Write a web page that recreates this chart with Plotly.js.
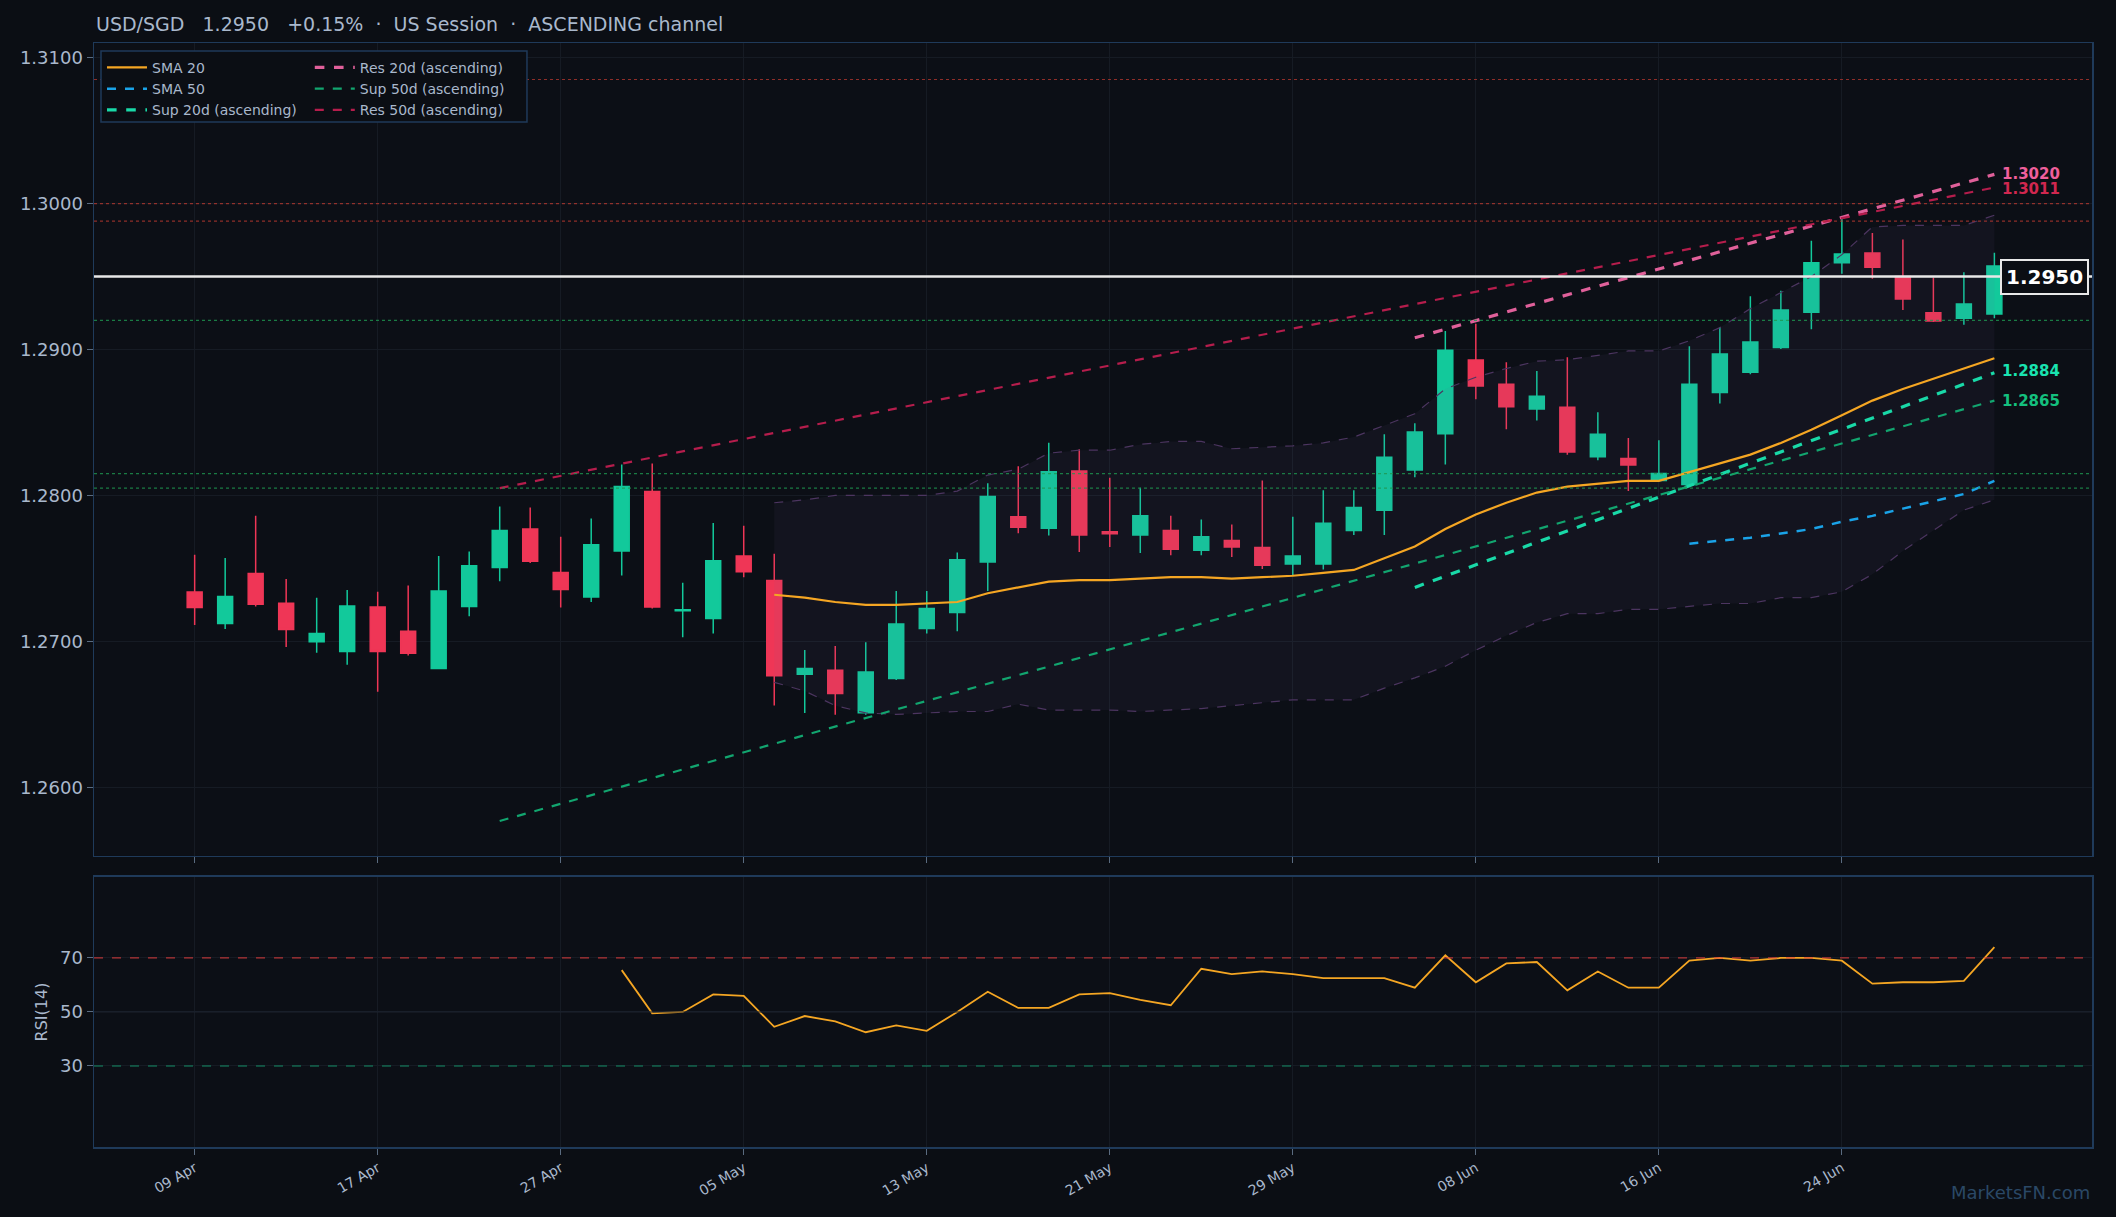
<!DOCTYPE html>
<html>
<head>
<meta charset="utf-8">
<script src="https://cdn.plot.ly/plotly-3.0.1.min.js"></script>
<style>
  html, body { margin: 0; padding: 0; background: #0b0e14; }
  #chart { width: 2116px; height: 1217px; }
</style>
</head>
<body>
<div id="chart"></div>
<script>
// candle index 0..59 (business days from 09 Apr)
var opens  = [1.27338,1.27123,1.27466,1.27262,1.26998,1.26931,1.27236,1.27070,1.26814,1.27240,
              1.27507,1.27771,1.27473,1.27304,1.27620,1.28027,1.27210,1.27157,1.27586,1.27417,
              1.26775,1.26803,1.26512,1.26746,1.27089,1.27198,1.27545,1.27854,1.27775,1.28167,
              1.27752,1.27729,1.27760,1.27624,1.27692,1.27643,1.27530,1.27530,1.27760,1.27899,
              1.28174,1.28423,1.28928,1.28762,1.28592,1.28604,1.28265,1.28253,1.28102,1.28076,
              1.28705,1.28845,1.29014,1.29255,1.29595,1.29662,1.29500,1.29252,1.29214,1.29244];
var highs  = [1.27594,1.27571,1.27861,1.27428,1.27300,1.27353,1.27341,1.27383,1.27586,1.27616,
              1.27925,1.27918,1.27718,1.27842,1.28212,1.28219,1.27402,1.27812,1.27793,1.27601,
              1.26942,1.26968,1.26995,1.27345,1.27345,1.27609,1.28084,1.28200,1.28362,1.28317,
              1.28121,1.28053,1.27861,1.27835,1.27801,1.28102,1.27854,1.28035,1.28035,1.28419,
              1.28494,1.29127,1.29176,1.28913,1.28852,1.28947,1.28570,1.28393,1.28378,1.29022,
              1.29154,1.29365,1.29402,1.29745,1.29900,1.29798,1.29753,1.29493,1.29530,1.29663];
var lows   = [1.27112,1.27085,1.27240,1.26961,1.26923,1.26840,1.26656,1.26904,1.26814,1.27172,
              1.27413,1.27537,1.27232,1.27270,1.27451,1.27225,1.27029,1.27055,1.27439,1.26561,
              1.26509,1.26497,1.26497,1.26735,1.27055,1.27070,1.27345,1.27741,1.27726,1.27613,
              1.27647,1.27605,1.27590,1.27590,1.27579,1.27496,1.27454,1.27492,1.27729,1.27729,
              1.28125,1.28212,1.28660,1.28453,1.28513,1.28279,1.28242,1.28031,1.28095,1.28069,
              1.28630,1.28830,1.29003,1.29139,1.29519,1.29485,1.29270,1.29188,1.29169,1.29214];
var closes = [1.27232,1.27307,1.27255,1.27081,1.27055,1.27243,1.26931,1.26919,1.27345,1.27518,
              1.27760,1.27549,1.27356,1.27662,1.28061,1.27236,1.27217,1.27552,1.27477,1.26765,
              1.26814,1.26644,1.26791,1.27119,1.27225,1.27560,1.27993,1.27782,1.28163,1.27729,
              1.27737,1.27861,1.27631,1.27718,1.27647,1.27522,1.27586,1.27809,1.27918,1.28261,
              1.28434,1.28995,1.28750,1.28607,1.28679,1.28298,1.28419,1.28208,1.28151,1.28762,
              1.28969,1.29052,1.29270,1.29595,1.29655,1.29564,1.29346,1.29195,1.29312,1.29572];

var tickIdx    = [0, 6, 12, 18, 24, 30, 36, 42, 48, 54];
var tickLabels = ['09 Apr','17 Apr','27 Apr','05 May','13 May','21 May','29 May','08 Jun','16 Jun','24 Jun'];

// SMA 20 from index 19
var sma20 = [1.2732,1.2730,1.2727,1.2725,1.2725,1.2726,1.2727,1.2733,1.2737,1.2741,
             1.2742,1.2742,1.2743,1.2744,1.2744,1.2743,1.2744,1.2745,1.2747,1.2749,
             1.2757,1.2765,1.2777,1.2787,1.2795,1.2802,1.2806,1.2808,1.2810,1.2810,
             1.2816,1.2822,1.2828,1.2836,1.2845,1.2855,1.2865,1.2873,1.2880,1.2887,1.2894];
// SMA 50 from index 49
var sma50 = [1.2767,1.2769,1.2771,1.2774,1.2777,1.2782,1.2786,1.2791,1.2796,1.2801,1.2810];
// Bollinger bands from index 19
var bbUpper = [1.2795,1.2797,1.2800,1.2800,1.2800,1.2800,1.2803,1.2814,1.2818,1.2829,
               1.2831,1.2831,1.2835,1.2837,1.2837,1.2832,1.2833,1.2834,1.2836,1.2840,
               1.2848,1.2856,1.2873,1.2881,1.2887,1.2892,1.2893,1.2896,1.2899,1.2899,
               1.2906,1.2915,1.2928,1.2939,1.2950,1.2965,1.2984,1.2985,1.2985,1.2985,1.2992];
var bbLower = [1.2672,1.2666,1.2656,1.2651,1.2650,1.2651,1.2652,1.2652,1.2657,1.2653,
               1.2653,1.2653,1.2652,1.2653,1.2654,1.2656,1.2658,1.2660,1.2660,1.2660,
               1.2668,1.2675,1.2683,1.2694,1.2704,1.2713,1.2719,1.2719,1.2722,1.2722,
               1.2724,1.2726,1.2726,1.2730,1.2730,1.2734,1.2746,1.2762,1.2776,1.2790,1.2797];
// RSI(14) from index 14
var rsi = [65.5,49.5,50,56.5,56,44.5,48.5,46.5,42.5,45,43,50,57.5,51.5,51.5,56.5,57,54.5,52.5,
           66,64,65,64,62.5,62.5,62.5,59,71,61,68,68.5,58,65,59,59,69,70,69,70,70,69,60.5,61,61,61.5,74];

// trend lines: [startIdx, endIdx], [startPrice, endPrice]
var res50 = [[10, 59], [1.2805, 1.3011]];
var sup50 = [[10, 59], [1.2577, 1.2865]];
var res20 = [[40, 59], [1.2908, 1.3020]];
var sup20 = [[40, 59], [1.2737, 1.2884]];

var resLevels = [1.3085, 1.3000, 1.2988];
var supLevels = [1.2920, 1.2815, 1.2805];
var lastPrice = 1.2950;

function range(a, b) { var r = []; for (var i = a; i <= b; i++) r.push(i); return r; }
var idx = range(0, 59);

var GREEN = '#12c99b', RED = '#ef3656';

var traces = [];
traces.push({
  type: 'candlestick', x: idx, open: opens, high: highs, low: lows, close: closes,
  increasing: {line: {color: GREEN, width: 1.5}, fillcolor: GREEN},
  decreasing: {line: {color: RED, width: 1.5}, fillcolor: RED},
  whiskerwidth: 0, showlegend: false, hoverinfo: 'skip', xaxis: 'x', yaxis: 'y'
});
traces.push({x: range(19, 59), y: bbUpper, mode: 'lines', line: {color: '#4c3560', width: 1.2, dash: 'dash'},
  showlegend: false, hoverinfo: 'skip'});
traces.push({x: range(19, 59), y: bbLower, mode: 'lines', line: {color: '#4c3560', width: 1.2, dash: 'dash'},
  fill: 'tonexty', fillcolor: 'rgba(120,100,160,0.07)', showlegend: false, hoverinfo: 'skip'});

function tl(def, name, color, w, dash, leg) {
  return {x: def[0], y: def[1], mode: 'lines', name: name, legend: leg, line: {color: color, width: w, dash: dash}, hoverinfo: 'skip'};
}
traces.push({x: range(19, 59), y: sma20, mode: 'lines', name: 'SMA 20', legend: 'legend', line: {color: '#f5a623', width: 2.2}, hoverinfo: 'skip'});
traces.push({x: range(49, 59), y: sma50, mode: 'lines', name: 'SMA 50', legend: 'legend', line: {color: '#1aa3e8', width: 2.5, dash: 'dash'}, hoverinfo: 'skip'});
traces.push(tl(sup20, 'Sup 20d (ascending)', '#19d9a8', 3.2, 'dash', 'legend'));
traces.push(tl(res20, 'Res 20d (ascending)', '#e0609a', 3.2, 'dash', 'legend2'));
traces.push(tl(sup50, 'Sup 50d (ascending)', '#12a56f', 2.2, 'dash', 'legend2'));
traces.push(tl(res50, 'Res 50d (ascending)', '#b51d4c', 2.2, 'dash', 'legend2'));

traces.push({x: range(14, 59), y: rsi, mode: 'lines', line: {color: '#f5a623', width: 1.8},
  xaxis: 'x2', yaxis: 'y2', showlegend: false, hoverinfo: 'skip'});

var shapes = [];
resLevels.forEach(function (v) {
  shapes.push({type: 'line', xref: 'paper', x0: 0, x1: 1, yref: 'y', y0: v, y1: v, line: {color: 'rgba(200,60,50,0.7)', width: 1.2, dash: 'dot'}});
});
supLevels.forEach(function (v) {
  shapes.push({type: 'line', xref: 'paper', x0: 0, x1: 1, yref: 'y', y0: v, y1: v, line: {color: 'rgba(30,150,80,0.8)', width: 1.2, dash: 'dot'}});
});
shapes.push({type: 'line', xref: 'paper', x0: 0, x1: 1, yref: 'y', y0: lastPrice, y1: lastPrice, line: {color: '#e8e8e8', width: 2.5}});
shapes.push({type: 'line', xref: 'paper', x0: 0, x1: 1, yref: 'y2', y0: 70, y1: 70, line: {color: 'rgba(220,60,60,0.8)', width: 1.2, dash: 'dash'}});
shapes.push({type: 'line', xref: 'paper', x0: 0, x1: 1, yref: 'y2', y0: 30, y1: 30, line: {color: 'rgba(20,170,120,0.8)', width: 1.2, dash: 'dash'}});
shapes.push({type: 'line', xref: 'paper', x0: 0, x1: 1, yref: 'y2', y0: 50, y1: 50, line: {color: '#1e2430', width: 1}});
// legend box
shapes.push({type: 'rect', xref: 'paper', yref: 'paper', x0: 0.0035, x1: 0.2167, y0: 0.9284, y1: 0.9928,
  fillcolor: '#0b0e14', line: {color: '#1f3a5a', width: 1.5}, layer: 'above'});

function lab(y, txt, color) {
  return {x: 59.2, y: y, xref: 'x', yref: 'y', text: '<b>' + txt + '</b>', showarrow: false, xanchor: 'left',
    font: {family: 'DejaVu Sans', size: 15, color: color}};
}
var annotations = [
  {xref: 'paper', yref: 'paper', x: -0.0, y: 1.005, xanchor: 'left', yanchor: 'bottom', showarrow: false,
   text: 'USD/SGD   1.2950   +0.15%  ·  US Session  ·  ASCENDING channel',
   font: {family: 'DejaVu Sans', size: 19, color: '#a9b8cc'}},
  lab(res20[1][1], res20[1][1].toFixed(4), '#ef5f9c'),
  lab(res50[1][1] - 0.0001, res50[1][1].toFixed(4), '#d1274f'),
  lab(sup20[1][1] + 0.0001, sup20[1][1].toFixed(4), '#19e3b0'),
  lab(sup50[1][1], sup50[1][1].toFixed(4), '#14c07e'),
  {x: 59.2, y: lastPrice, xref: 'x', yref: 'y', xanchor: 'left', showarrow: false, text: '<b>' + lastPrice.toFixed(4) + '</b>',
   font: {family: 'DejaVu Sans', size: 20, color: '#ffffff'}, bgcolor: '#0b0e14', bordercolor: '#e8e8e8', borderwidth: 2, borderpad: 4},
  {xref: 'paper', yref: 'paper', x: 1, y: -0.03, xanchor: 'right', yanchor: 'top', showarrow: false, text: 'MarketsFN.com',
   font: {family: 'DejaVu Sans', size: 18, color: '#2a4866'}}
];

var axisCommon = {showline: true, mirror: true, linecolor: '#1f3a5a', linewidth: 1.5, zeroline: false,
  gridcolor: '#161b24', tickfont: {family: 'DejaVu Sans', size: 18, color: '#a9b8cc'}, ticks: 'outside', tickcolor: '#5a6b80', ticklen: 6};

var legFont = {family: 'DejaVu Sans', size: 14, color: '#a9b8cc'};
var layout = {
  width: 2116, height: 1217,
  paper_bgcolor: '#0b0e14', plot_bgcolor: '#0c0f16',
  margin: {l: 94, r: 24, t: 43, b: 70},
  showlegend: true,
  legend: {x: 0.004, y: 0.992, xanchor: 'left', yanchor: 'top', bgcolor: 'rgba(0,0,0,0)', borderwidth: 0,
    font: legFont, tracegroupgap: 0, itemwidth: 40, traceorder: 'normal'},
  legend2: {x: 0.108, y: 0.992, xanchor: 'left', yanchor: 'top', bgcolor: 'rgba(0,0,0,0)', borderwidth: 0,
    font: legFont, tracegroupgap: 0, itemwidth: 40, traceorder: 'normal'},
  xaxis: Object.assign({}, axisCommon, {domain: [0, 1], anchor: 'y', range: [-3.3, 62.2], tickvals: tickIdx, ticktext: tickLabels,
    showticklabels: false, rangeslider: {visible: false}, matches: 'x2'}),
  yaxis: Object.assign({}, axisCommon, {domain: [0.2636, 1], range: [1.2553, 1.3110], tickformat: '.4f', dtick: 0.01}),
  xaxis2: Object.assign({}, axisCommon, {domain: [0, 1], anchor: 'y2', range: [-3.3, 62.2], tickvals: tickIdx, ticktext: tickLabels,
    tickangle: -30, tickfont: {family: 'DejaVu Sans', size: 14, color: '#a9b8cc'}}),
  yaxis2: Object.assign({}, axisCommon, {domain: [0, 0.2446], range: [0, 100], tickvals: [30, 50, 70],
    title: {text: 'RSI(14)', font: {family: 'DejaVu Sans', size: 16, color: '#a9b8cc'}, standoff: 8}}),
  shapes: shapes,
  annotations: annotations
};

Plotly.newPlot('chart', traces, layout, {displayModeBar: false, staticPlot: true});
</script>
</body>
</html>
